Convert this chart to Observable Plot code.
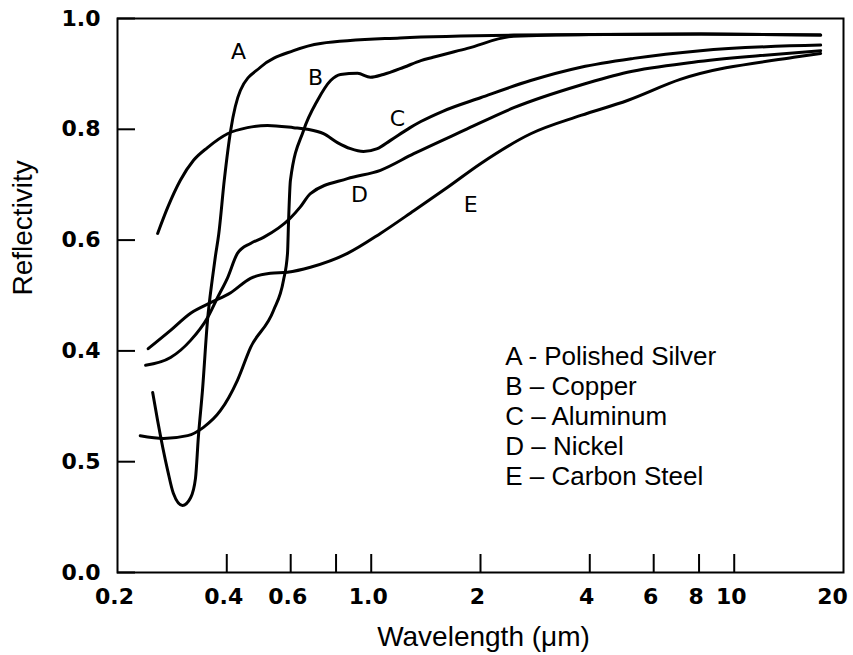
<!DOCTYPE html>
<html>
<head>
<meta charset="utf-8">
<script src="https://cdn.jsdelivr.net/npm/d3@7"></script>
<script src="https://cdn.jsdelivr.net/npm/@observablehq/plot@0.6"></script>
<style>
  html, body { margin: 0; padding: 0; background: #fff; }
</style>
</head>
<body>
<div id="chart"></div>
<script>
// ---- Data (wavelength in µm, reflectivity 0..1) ----
const seriesNames = ["A", "B", "C", "D", "E"];
const legendLabels = ["A - Polished Silver", "B – Copper", "C – Aluminum", "D – Nickel", "E – Carbon Steel"];

const silver = [[0.250,0.325],[0.258,0.274],[0.275,0.184],[0.285,0.143],[0.302,0.121],[0.318,0.135],[0.328,0.17],[0.334,0.244],[0.343,0.33],[0.354,0.455],[0.365,0.53],[0.372,0.57],[0.380,0.61],[0.394,0.71],[0.410,0.798],[0.436,0.870],[0.495,0.912],[0.611,0.942],[0.725,0.955],[1.2,0.965],[2.47,0.970],[8.1,0.972],[17.3,0.970]];
const copper = [[0.231,0.247],[0.268,0.242],[0.312,0.247],[0.345,0.262],[0.384,0.292],[0.428,0.347],[0.465,0.406],[0.538,0.473],[0.573,0.527],[0.588,0.576],[0.592,0.635],[0.599,0.708],[0.651,0.798],[0.711,0.852],[0.773,0.888],[0.823,0.899],[0.917,0.901],[0.995,0.894],[1.08,0.899],[1.23,0.912],[1.37,0.924],[1.48,0.930],[1.84,0.946],[2.47,0.968],[4.0,0.971],[8.1,0.972],[17.3,0.970]];
const aluminum = [[0.258,0.612],[0.275,0.659],[0.298,0.708],[0.324,0.744],[0.354,0.767],[0.402,0.792],[0.456,0.803],[0.518,0.807],[0.611,0.803],[0.667,0.800],[0.739,0.792],[0.807,0.776],[0.877,0.765],[0.952,0.760],[1.04,0.765],[1.13,0.78],[1.28,0.803],[1.37,0.814],[1.58,0.833],[2.0,0.857],[2.75,0.888],[3.78,0.912],[5.28,0.928],[8.07,0.942],[17.3,0.952]];
const nickel = [[0.239,0.374],[0.280,0.388],[0.318,0.419],[0.354,0.460],[0.377,0.496],[0.402,0.532],[0.428,0.576],[0.465,0.594],[0.505,0.605],[0.599,0.64],[0.638,0.66],[0.68,0.684],[0.86,0.711],[1.06,0.726],[1.31,0.756],[1.80,0.798],[2.47,0.839],[3.78,0.88],[5.08,0.903],[7.72,0.921],[11.8,0.933],[17.3,0.942]];
const carbonSteel = [[0.243,0.404],[0.280,0.437],[0.318,0.468],[0.361,0.487],[0.410,0.505],[0.465,0.531],[0.528,0.540],[0.588,0.542],[0.680,0.551],[0.86,0.576],[1.06,0.612],[1.31,0.653],[1.62,0.695],[2.0,0.738],[2.75,0.792],[3.78,0.825],[5.08,0.852],[7.1,0.89],[14.6,0.930],[17.3,0.937]];

// curve letter labels, anchored in data coordinates
const curveLabelX = [0.431, 0.702, 1.18, 0.928, 1.88];
const curveLabelY = [0.939, 0.892, 0.819, 0.682, 0.664];

// axes
const xLabelTicks = [0.2, 0.4, 0.6, 1, 2, 4, 6, 8, 10];
const xLabelTexts = ["0.2", "0.4", "0.6", "1.0", "2", "4", "6", "8", "10"];
const xEndTick = [20];
const xEndText = ["20"];
const xTickMarks = [0.4, 0.6, 0.8, 1, 2, 4, 6, 8, 10];
const yTicks = [0, 0.2, 0.4, 0.6, 0.8, 1.0];
const yTickTexts = ["0.0", "0.5", "0.4", "0.6", "0.8", "1.0"];
const xTitle = "Wavelength (\u03BCm)";
const yTitle = "Reflectivity";
const legendAt = {x: 2.34, y: 0.412};

// ---- Build table ----
const allSeries = [silver, copper, aluminum, nickel, carbonSteel];
const data = allSeries.flatMap((s, i) => s.map(([x, y]) => ({series: seriesNames[i], x, y})));
const curveLabels = seriesNames.map((n, i) => ({text: n, x: curveLabelX[i], y: curveLabelY[i]}));
const xLabelRows = xLabelTicks.map((v, i) => ({v, t: xLabelTexts[i]}));
const xEndRows = xEndTick.map((v, i) => ({v, t: xEndText[i]}));
const yLabelRows = yTicks.map((v, i) => ({v, t: yTickTexts[i]}));

const tickFont = {fontFamily: "'DejaVu Sans', sans-serif", fontWeight: "bold", fontSize: 22, fill: "#000"};

const chart = Plot.plot({
  width: 853,
  height: 655,
  marginLeft: 117,
  marginRight: 10,
  marginTop: 18,
  marginBottom: 83,
  x: {type: "log", domain: [0.2, 20]},
  y: {domain: [0, 1]},
  style: {fontFamily: "'Liberation Sans', Arial, sans-serif", background: "#fff", color: "#000"},
  marks: [
    Plot.axisX(xTickMarks, {tickSize: -18, strokeWidth: 2, tickFormat: () => "", label: null}),
    Plot.axisY(yTicks, {tickSize: -18, strokeWidth: 2, tickFormat: () => "", label: null}),
    Plot.text(xLabelRows, {x: "v", text: "t", frameAnchor: "bottom", dy: 16, dx: -3, lineAnchor: "top", ...tickFont}),
    Plot.text(xEndRows, {x: "v", text: "t", frameAnchor: "bottom", dy: 16, dx: -11, lineAnchor: "top", ...tickFont}),
    Plot.text(yLabelRows, {y: "v", text: "t", frameAnchor: "left", dx: -17, textAnchor: "end", ...tickFont}),
    Plot.frame({stroke: "#000", strokeWidth: 2}),
    Plot.line(data, {x: "x", y: "y", z: "series", stroke: "#000", strokeWidth: 3, curve: "monotone-x"}),
    Plot.text(curveLabels, {x: "x", y: "y", text: "text", fontSize: 22, fontFamily: "'DejaVu Sans', sans-serif", fill: "#000"}),
    Plot.text([legendLabels.join("\n")], {x: legendAt.x, y: legendAt.y, textAnchor: "start", lineAnchor: "top", lineHeight: 1.15, fontSize: 26, fill: "#000"}),
    Plot.text([xTitle], {frameAnchor: "bottom", dx: 3, dy: 73, lineAnchor: "bottom", fontSize: 28, fill: "#000"}),
    Plot.text([yTitle], {frameAnchor: "left", dx: -86, rotate: -90, lineAnchor: "bottom", fontSize: 28, fill: "#000"})
  ]
});
document.getElementById("chart").appendChild(chart);
</script>
</body>
</html>
